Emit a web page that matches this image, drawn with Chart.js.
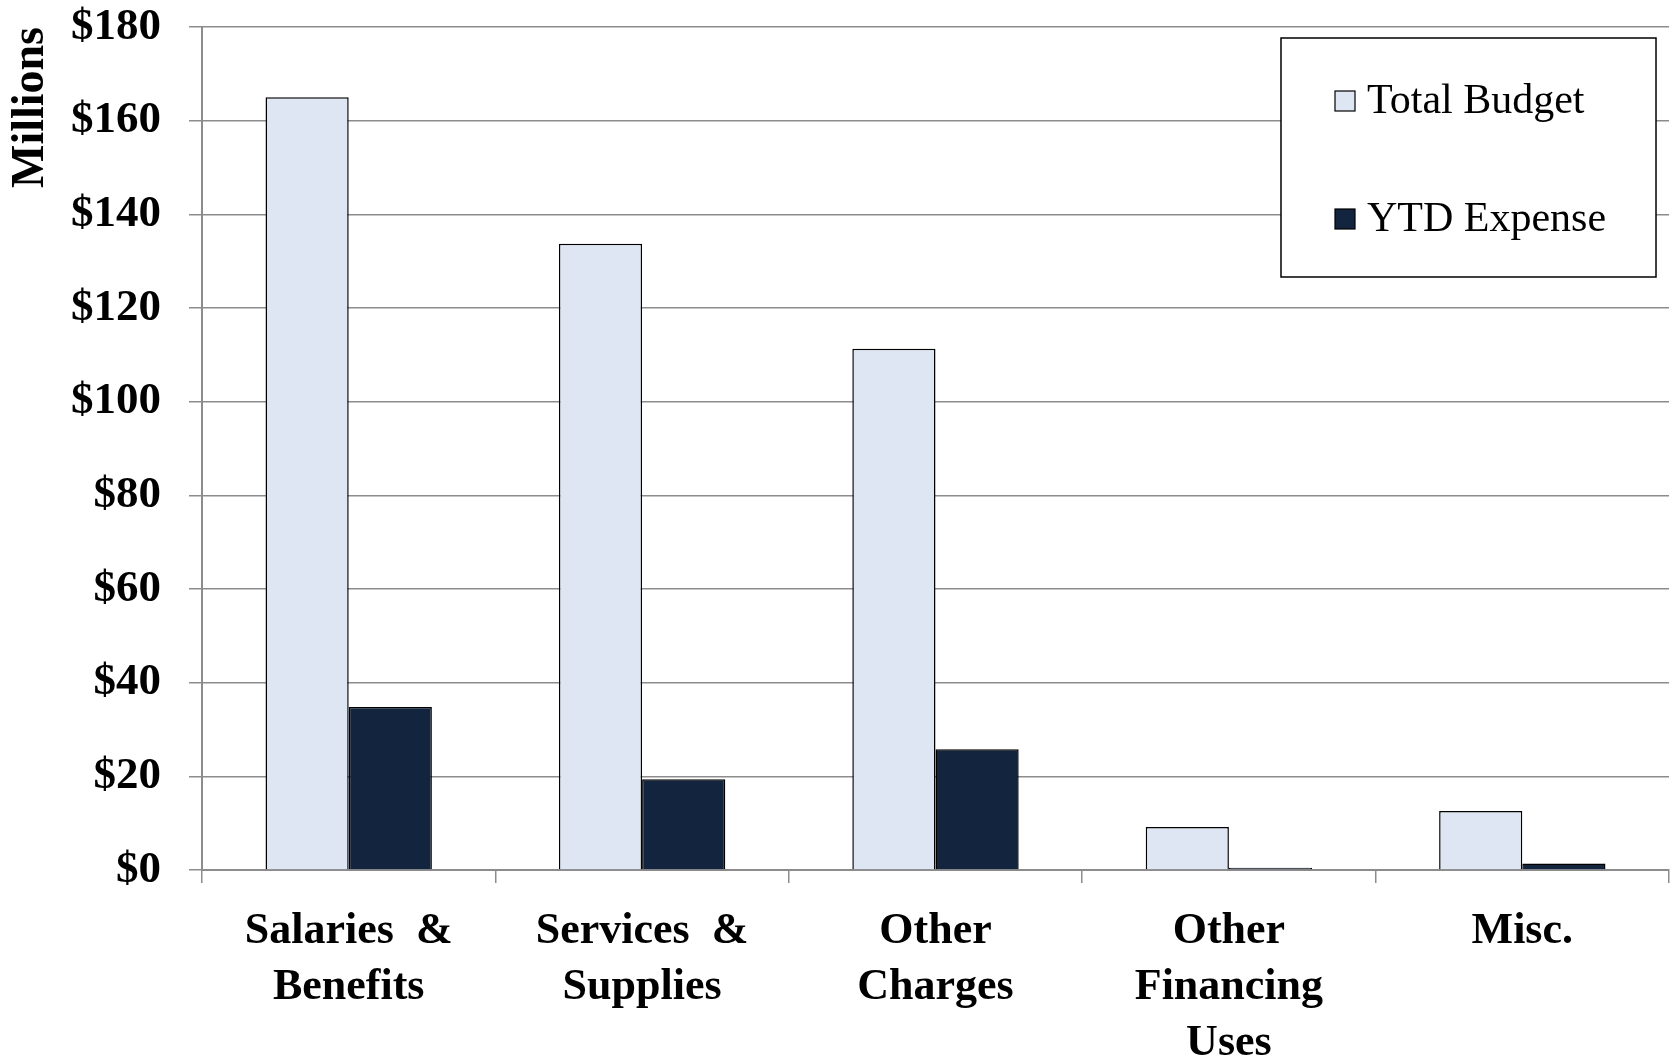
<!DOCTYPE html>
<html>
<head>
<meta charset="utf-8">
<script src="https://cdn.jsdelivr.net/npm/chart.js@4/dist/chart.umd.min.js"></script>
<style>
  html, body { margin: 0; padding: 0; background: #ffffff; }
  #wrap { width: 1672px; height: 1059px; position: relative; }
</style>
</head>
<body>
<div id="wrap"><canvas id="c"></canvas></div>
<script>
const categories = [
  ["Salaries  &", "Benefits"],
  ["Services  &", "Supplies"],
  ["Other", "Charges"],
  ["Other", "Financing", "Uses"],
  ["Misc."]
];
const seriesNames = ["Total Budget", "YTD Expense"];
const totalBudget = [165.0, 133.7, 111.3, 9.2, 12.6];
const ytdExpense = [34.8, 19.4, 25.8, 0.5, 1.4];
const yTicksMax = 180;
const yTickStep = 20;
const yAxisTitle = "Millions";

const serifFamily = "'Liberation Serif', 'Times New Roman', serif";

const legendBoxPlugin = {
  id: 'legendBox',
  afterDraw(chart) {
    const ctx = chart.ctx;
    const bx = 1281, by = 38, bw = 375, bh = 239;
    ctx.save();
    ctx.fillStyle = '#ffffff';
    ctx.fillRect(bx, by, bw, bh);
    ctx.strokeStyle = '#000000';
    ctx.lineWidth = 1.5;
    ctx.strokeRect(bx, by, bw, bh);
    const rowsY = [101, 219];
    chart.data.datasets.forEach((ds, i) => {
      const cy = rowsY[i];
      ctx.fillStyle = ds.backgroundColor;
      ctx.fillRect(1335, cy - 10, 20, 20);
      ctx.strokeStyle = '#000000';
      ctx.lineWidth = 1.2;
      ctx.strokeRect(1335, cy - 10, 20, 20);
      ctx.fillStyle = '#000000';
      ctx.font = "42px " + serifFamily;
      ctx.textBaseline = 'middle';
      ctx.textAlign = 'left';
      ctx.fillText(ds.label, 1367, cy + 1);
    });
    ctx.restore();
  }
};

new Chart(document.getElementById('c'), {
  type: 'bar',
  data: {
    labels: categories,
    datasets: [
      {
        label: seriesNames[0],
        data: totalBudget,
        backgroundColor: '#dfe6f3',
        borderColor: '#000000',
        borderWidth: 1.5,
        categoryPercentage: 0.567,
        barPercentage: 1.0
      },
      {
        label: seriesNames[1],
        data: ytdExpense,
        backgroundColor: '#13243f',
        borderColor: '#000000',
        borderWidth: 1.5,
        categoryPercentage: 0.567,
        barPercentage: 1.0
      }
    ]
  },
  options: {
    responsive: true,
    maintainAspectRatio: false,
    animation: false,
    layout: { padding: { top: 27, right: 3, left: 0, bottom: 0 } },
    plugins: {
      legend: { display: false },
      tooltip: { enabled: false },
      title: { display: false }
    },
    scales: {
      x: {
        offset: true,
        grid: {
          display: true,
          drawOnChartArea: false,
          drawTicks: true,
          tickLength: 13,
          color: '#8c8c8c',
          lineWidth: 1.5,
          offset: true
        },
        border: { display: true, color: '#8c8c8c', width: 2 },
        ticks: {
          color: '#000000',
          font: { family: serifFamily, size: 44, weight: 'bold', lineHeight: 1.27 },
          padding: 21,
          maxRotation: 0,
          minRotation: 0,
          autoSkip: false
        },
        afterFit(scale) { scale.height = 189; scale.paddingLeft = 0; scale.paddingRight = 0; }
      },
      y: {
        min: 0,
        max: yTicksMax,
        ticks: {
          stepSize: yTickStep,
          color: '#000000',
          font: { family: serifFamily, size: 45, weight: 'bold' },
          padding: 28,
          callback: (v) => '$' + v
        },
        grid: {
          color: '#8c8c8c',
          lineWidth: 1.5,
          tickLength: 13
        },
        border: { display: true, color: '#8c8c8c', width: 2 },
        title: {
          display: true,
          text: yAxisTitle,
          align: 'end',
          color: '#000000',
          font: { family: serifFamily, size: 46, weight: 'bold', lineHeight: 1.1 },
          padding: { top: 6, bottom: 0 }
        },
        afterFit(scale) { scale.width = 202; scale.paddingTop = 0; scale.paddingBottom = 0; }
      }
    }
  },
  plugins: [legendBoxPlugin]
});
</script>
</body>
</html>
